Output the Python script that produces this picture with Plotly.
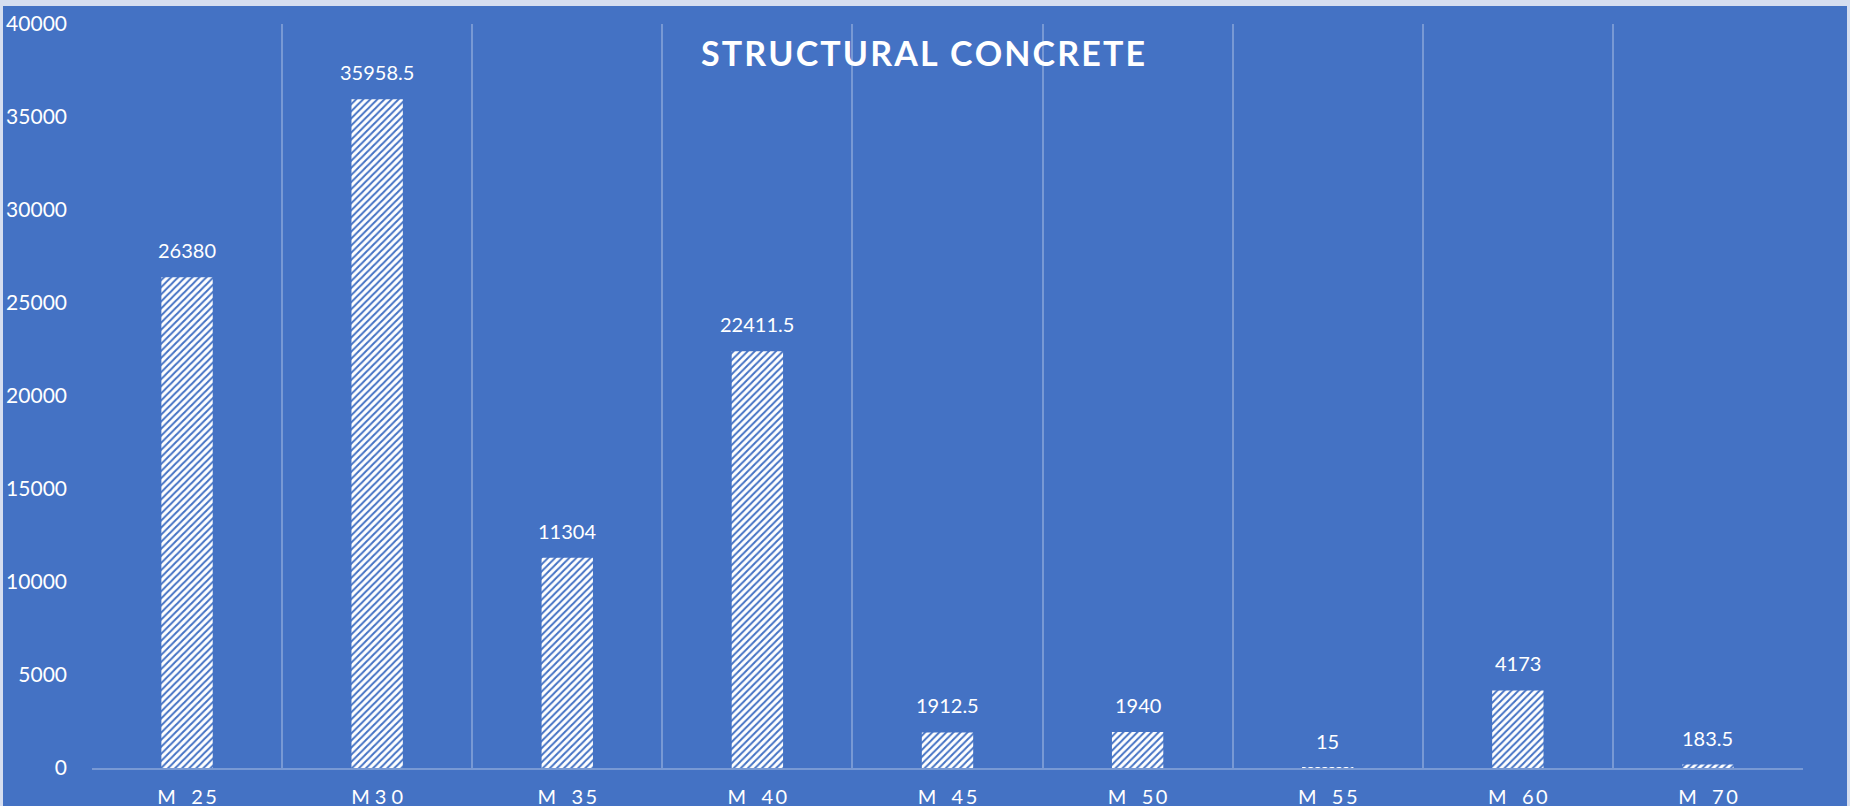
import plotly.graph_objects as go

categories = ["M 25", "M30", "M 35", "M 40", "M 45", "M 50", "M 55", "M 60", "M 70"]
SP = "\u00a0\u00a0\u00a0"
tick_labels = ["M" + SP + "2\u20095", "M\u2009\u20093\u2009\u20090", "M" + SP + "3\u20095", "M" + SP + "4\u20090",
               "M" + SP + "4\u20095", "M" + SP + "5\u20090", "M" + SP + "5\u20095", "M" + SP + "6\u20090", "M" + SP + "7\u20090"]
values = [26380, 35958.5, 11304, 22411.5, 1912.5, 1940, 15, 4173, 183.5]
value_labels = ["26380", "35958.5", "11304", "22411.5", "1912.5", "1940", "15", "4173", "183.5"]
y_ticks = [0, 5000, 10000, 15000, 20000, 25000, 30000, 35000, 40000]

BLUE = "#4472C4"
LIGHT = "#D6DEF0"
GRID = "rgba(255,255,255,0.28)"
FONT = "Lato"

fig = go.Figure()
fig.add_trace(go.Bar(
    x=categories, y=values,
    marker=dict(
        color="white",
        line=dict(width=0),
        pattern=dict(shape="/", fgcolor=BLUE, bgcolor="white", size=5, solidity=0.4, fillmode="replace"),
    ),
    hoverinfo="x+y",
))

annotations = [
    dict(x=c, y=v, text=t, xref="x", yref="y", showarrow=False,
         yanchor="bottom", yshift=13,
         font=dict(family=FONT, size=20, color="white"))
    for c, v, t in zip(categories, values, value_labels)
]

title_txt = "\u200a".join(list("STRUCTURAL CONCRETE"))

fig.update_layout(
    width=1850, height=806,
    margin=dict(l=92, r=47, t=24, b=38, autoexpand=False),
    paper_bgcolor=LIGHT,
    plot_bgcolor=BLUE,
    bargap=0.73,
    showlegend=False,
    annotations=annotations,
    title=dict(text="<b>" + title_txt + "</b>", x=923 / 1850, xanchor="center",
               y=1 - 54 / 806, yanchor="middle",
               font=dict(family=FONT, size=34, color="white")),
    font=dict(family=FONT, color="white"),
    shapes=[dict(type="rect", xref="paper", yref="paper", layer="below",
                 x0=(3 - 92) / 1711, x1=(1847 - 92) / 1711,
                 y0=(768 - 810) / 744, y1=(768 - 6) / 744,
                 fillcolor=BLUE, line=dict(width=0))],
)
fig.update_xaxes(
    type="category", tickson="boundaries",
    tickmode="array", tickvals=categories, ticktext=tick_labels,
    showgrid=True, gridcolor=GRID, gridwidth=1.5,
    showline=True, linecolor=GRID, linewidth=1.5,
    ticks="", ticklabelstandoff=10,
    tickfont=dict(family=FONT, size=20, color="white"),
    range=[-0.5, 8.5],
)
fig.update_yaxes(
    range=[0, 40000], tickvals=y_ticks, ticktext=[str(v) for v in y_ticks],
    showgrid=False, zeroline=False, showline=False,
    ticks="", ticklabelstandoff=24,
    tickfont=dict(family=FONT, size=21, color="white"),
)

fig.write_html(
    "out.html",
    config={"displayModeBar": False},
    post_script="document.body.style.margin='0';document.body.style.overflow='hidden';document.body.style.background='#D6DEF0';",
)
